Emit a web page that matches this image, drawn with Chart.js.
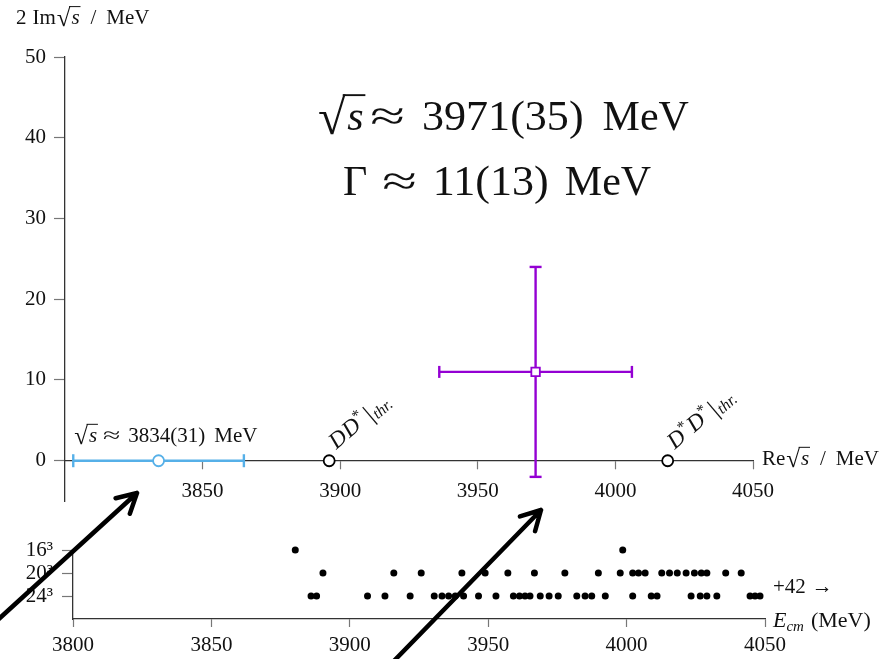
<!DOCTYPE html>
<html>
<head>
<meta charset="utf-8">
<script src="https://cdn.jsdelivr.net/npm/chart.js@4.4.1/dist/chart.umd.min.js"></script>
<style>
  html, body { margin: 0; padding: 0; background: #fff; width: 896px; height: 659px; overflow: hidden; }
  #wrap { position: relative; width: 896px; height: 659px; }
  canvas { position: absolute; left: 0; }
  #poles { top: 0; }
  #levels { top: 505px; }
  #arrows { top: 0; pointer-events: none; }
</style>
</head>
<body>
<div id="wrap">
  <canvas id="poles" width="896" height="510"></canvas>
  <canvas id="levels" width="896" height="154"></canvas>
  <canvas id="arrows" width="896" height="659"></canvas>
</div>
<script>
// ---- Pole positions in the complex energy plane (MeV) ----
const resonanceRe = [3971];
const resonanceReErr = [35];
const resonanceWidth = [11];      // 2 Im sqrt(s), i.e. Gamma
const resonanceWidthErr = [13];
const boundRe = [3834];
const boundReErr = [31];
const thresholdRe = [3896, 4019];
const thresholdNames = [['D', 'D'], ['D', 'D']];
const thresholdStars = [[false, true], [true, true]];
const xTicksTop = [3850, 3900, 3950, 4000, 4050];
const yTicksTop = [0, 10, 20, 30, 40, 50];

// ---- Finite-volume energy levels, one row per lattice volume ----
const volumeNames = ['24³', '20³', '16³'];
const levels24 = [3886, 3888, 3906.4, 3912.7, 3921.8, 3930.5, 3933.3, 3935.7, 3938.1, 3941.1,
  3946.5, 3952.8, 3959.1, 3961.3, 3963.3, 3965.1, 3968.8, 3972, 3975.3, 3982, 3985, 3987.4,
  3992.3, 4002.2, 4008.9, 4011, 4023.3, 4026.6, 4029, 4032.6, 4044.6, 4046.4, 4048.2];
const levels20 = [3890.3, 3915.9, 3925.8, 3940.5, 3948.9, 3957.1, 3966.7, 3977.7, 3989.8,
  3997.7, 4002.2, 4004.3, 4006.7, 4012.7, 4015.5, 4018.3, 4021.5, 4024.5, 4027, 4029,
  4035.8, 4041.4];
const levels16 = [3880.3, 3998.6];
const xTicksBottom = [3800, 3850, 3900, 3950, 4000, 4050];
const extraLevels = 42;

const SERIF = "'Liberation Serif', 'DejaVu Serif', serif";
const PURPLE = '#9400d3';
const BLUE = '#56b0e8';
const INK = '#111';

// ---- small text-layout helpers: runs of upright/italic pieces and a radical ----
function fontOf(r) { return (r.it ? 'italic ' : '') + r.size + 'px ' + SERIF; }

function drawSqrt(ctx, arg, x, y, size, dry) {
  const rs = size * 1.2, rdy = size * 0.1;
  ctx.font = rs + 'px ' + SERIF;
  const m = ctx.measureText('√');
  const w1 = m.width;
  const top = y + rdy - m.actualBoundingBoxAscent;
  ctx.font = 'italic ' + size + 'px ' + SERIF;
  const w2 = ctx.measureText(arg).width;
  if (!dry) {
    ctx.font = rs + 'px ' + SERIF;
    ctx.fillText('√', x, y + rdy);
    ctx.font = 'italic ' + size + 'px ' + SERIF;
    ctx.fillText(arg, x + w1 + size * 0.04, y);
    const lw = Math.max(1, size * 0.045);
    ctx.lineWidth = lw;
    ctx.beginPath();
    ctx.moveTo(x + w1 - size * 0.07, top + lw / 2);
    ctx.lineTo(x + w1 + w2 + size * 0.08, top + lw / 2);
    ctx.stroke();
  }
  return w1 + w2 + size * 0.08;
}

function drawRuns(ctx, runs, x, y, dry) {
  let cx = x;
  ctx.textBaseline = 'alphabetic';
  ctx.textAlign = 'left';
  for (const r of runs) {
    cx += r.gap || 0;
    if (r.sqrt) { cx += drawSqrt(ctx, r.sqrt, cx, y, r.size, dry); continue; }
    ctx.font = fontOf(r);
    const sx = r.sx || 1;
    const w = ctx.measureText(r.t).width * sx;
    if (!dry) {
      ctx.save();
      ctx.translate(cx, y + (r.dy || 0));
      ctx.scale(sx, 1);
      ctx.fillText(r.t, 0, 0);
      ctx.restore();
    }
    cx += w;
  }
  return cx - x;
}

function arrowDraw(ctx, x0, y0, x1, y1) {
  const ang = Math.atan2(y0 - y1, x0 - x1);
  const len = 22, spread = 0.5;
  ctx.beginPath();
  ctx.moveTo(x0, y0);
  ctx.lineTo(x1, y1);
  ctx.moveTo(x1 + len * Math.cos(ang + spread), y1 + len * Math.sin(ang + spread));
  ctx.lineTo(x1, y1);
  ctx.lineTo(x1 + len * Math.cos(ang - spread), y1 + len * Math.sin(ang - spread));
  ctx.stroke();
}

const plainNumber = v => String(v);

// ---- annotations for the pole plot ----
const poleText = {
  id: 'poleText',
  afterDraw(chart) {
    const ctx = chart.ctx;
    const xs = chart.scales.x, ys = chart.scales.y;
    const area = chart.chartArea;
    ctx.save();
    ctx.fillStyle = INK;
    ctx.strokeStyle = INK;

    // axis titles
    drawRuns(ctx, [{ t: '2', size: 21 }, { t: 'Im', size: 21, gap: 6 }, { sqrt: 's', size: 21, gap: 1 },
      { t: '/', size: 21, gap: 10 }, { t: 'MeV', size: 21, gap: 10 }], 16, 24);
    drawRuns(ctx, [{ t: 'Re', size: 21 }, { sqrt: 's', size: 21, gap: 1 },
      { t: '/', size: 21, gap: 10 }, { t: 'MeV', size: 21, gap: 10 }], area.right + 9, ys.getPixelForValue(0) + 4);

    // resonance summary
    const big = 42;
    drawRuns(ctx, [
      { sqrt: 's', size: big },
      { t: '≈', size: big, sx: 1.5, gap: 5 },
      { t: resonanceRe[0] + '(' + resonanceReErr[0] + ')', size: big, sx: 1.05, gap: 17 },
      { t: 'MeV', size: big, gap: 19 }], 318, 130);
    drawRuns(ctx, [
      { t: 'Γ', size: big },
      { t: '≈', size: big, sx: 1.5, gap: 15 },
      { t: resonanceWidth[0] + '(' + resonanceWidthErr[0] + ')', size: big, sx: 1.05, gap: 16 },
      { t: 'MeV', size: big, gap: 16 }], 343, 195);

    // bound-state label above its error bar
    drawRuns(ctx, [
      { sqrt: 's', size: 21 },
      { t: '≈', size: 21, sx: 1.5, gap: 5 },
      { t: boundRe[0] + '(' + boundReErr[0] + ')', size: 21, gap: 8 },
      { t: 'MeV', size: 21, gap: 9 }],
      xs.getPixelForValue(boundRe[0] - boundReErr[0]) + 1, ys.getPixelForValue(0) - 19);

    // threshold labels, tilted
    thresholdRe.forEach((e, i) => {
      const px = xs.getPixelForValue(e), py = ys.getPixelForValue(0);
      const runs = [];
      thresholdNames[i].forEach((n, k) => {
        runs.push({ t: n, it: true, size: 23, gap: k ? 1 : 0 });
        if (thresholdStars[i][k]) runs.push({ t: '*', size: 16, dy: -8 });
      });
      runs.push({ t: '|', size: 25, gap: 3, dy: 2 });
      runs.push({ t: 'thr.', it: true, size: 16, dy: 4, gap: 1 });
      ctx.save();
      ctx.translate(px + 7, py - 11);
      ctx.rotate(-Math.PI / 4 + 0.08);
      drawRuns(ctx, runs, 0, 0);
      ctx.restore();
    });
    ctx.restore();
  }
};

const re = resonanceRe[0], reErr = resonanceReErr[0];
const w = resonanceWidth[0], wErr = resonanceWidthErr[0];
const b = boundRe[0], bErr = boundReErr[0];

new Chart(document.getElementById('poles'), {
  type: 'scatter',
  data: {
    datasets: [
      { // resonance pole
        data: [{ x: re, y: w }],
        pointStyle: 'rect', pointRadius: 6, pointBorderWidth: 1.8,
        pointBackgroundColor: '#fff', pointBorderColor: PURPLE, clip: false
      },
      { // bound-state pole
        data: [{ x: b, y: 0 }],
        pointStyle: 'circle', pointRadius: 5.5, pointBorderWidth: 1.8,
        pointBackgroundColor: '#fff', pointBorderColor: BLUE, clip: false
      },
      { // two-meson thresholds
        data: thresholdRe.map(e => ({ x: e, y: 0 })),
        pointStyle: 'circle', pointRadius: 5.5, pointBorderWidth: 1.8,
        pointBackgroundColor: '#fff', pointBorderColor: '#000', clip: false
      },
      { // resonance: uncertainty in Re
        data: [{ x: re - reErr, y: w }, { x: re + reErr, y: w }],
        showLine: true, borderColor: PURPLE, borderWidth: 2.4,
        pointStyle: 'line', pointRotation: 90, pointRadius: 6, pointBorderWidth: 2.4,
        pointBorderColor: PURPLE, clip: false
      },
      { // resonance: uncertainty in width
        data: [{ x: re, y: w - wErr }, { x: re, y: w + wErr }],
        showLine: true, borderColor: PURPLE, borderWidth: 2.4,
        pointStyle: 'line', pointRotation: 0, pointRadius: 6, pointBorderWidth: 2.4,
        pointBorderColor: PURPLE, clip: false
      },
      { // bound state: uncertainty in Re
        data: [{ x: b - bErr, y: 0 }, { x: b + bErr, y: 0 }],
        showLine: true, borderColor: BLUE, borderWidth: 2.4,
        pointStyle: 'line', pointRotation: 90, pointRadius: 6.5, pointBorderWidth: 2.4,
        pointBorderColor: BLUE, clip: false
      }
    ]
  },
  options: {
    responsive: false, animation: false, devicePixelRatio: 1,
    layout: { padding: { left: 0, right: 143, top: 57, bottom: 5 } },
    plugins: { legend: { display: false }, tooltip: { enabled: false } },
    scales: {
      x: {
        type: 'linear', min: 3800, max: 4050, position: { y: 0 },
        afterBuildTicks: s => { s.ticks = xTicksTop.map(v => ({ value: v })); },
        grid: { drawOnChartArea: false, drawTicks: true, tickLength: 8, tickColor: '#777', tickWidth: 1.2 },
        border: { color: '#333', width: 1.3 },
        ticks: { font: { family: SERIF, size: 21 }, color: INK, padding: 10, maxRotation: 0, callback: plainNumber }
      },
      y: {
        type: 'linear', min: -5, max: 50,
        afterBuildTicks: s => { s.ticks = yTicksTop.map(v => ({ value: v })); },
        afterFit: s => { s.width = 65; s.paddingBottom = 0; },
        grid: { drawOnChartArea: false, drawTicks: true, tickLength: 11, tickColor: '#777', tickWidth: 1.2 },
        border: { color: '#333', width: 1.3 },
        ticks: { font: { family: SERIF, size: 21 }, color: INK, padding: 8, callback: plainNumber }
      }
    }
  },
  plugins: [poleText]
});

// ---- annotations for the energy-level strip ----
const levelText = {
  id: 'levelText',
  afterDraw(chart) {
    const ctx = chart.ctx;
    const area = chart.chartArea;
    const ys = chart.scales.y;
    ctx.save();
    ctx.fillStyle = INK;
    ctx.strokeStyle = INK;
    drawRuns(ctx, [{ t: '+' + extraLevels, size: 21 }, { t: '→', size: 21, gap: 6 }],
      area.right + 8, (ys.getPixelForValue(1) + ys.getPixelForValue(2)) / 2 + 8);
    drawRuns(ctx, [{ t: 'E', it: true, size: 22 }, { t: 'cm', it: true, size: 15, dy: 4 },
      { t: '(MeV)', size: 22, gap: 7 }], area.right + 8, area.bottom + 8);
    ctx.restore();
  }
};

const dot = { pointStyle: 'circle', pointRadius: 3.5, pointBorderWidth: 0,
  pointBackgroundColor: '#000', showLine: false, clip: false };

new Chart(document.getElementById('levels'), {
  type: 'scatter',
  data: {
    datasets: [
      Object.assign({ data: levels24.map(e => ({ x: e, y: 1 })) }, dot),
      Object.assign({ data: levels20.map(e => ({ x: e, y: 2 })) }, dot),
      Object.assign({ data: levels16.map(e => ({ x: e, y: 3 })) }, dot)
    ]
  },
  options: {
    responsive: false, animation: false, devicePixelRatio: 1,
    layout: { padding: { left: 0, right: 131, top: 45, bottom: 0 } },
    plugins: { legend: { display: false }, tooltip: { enabled: false } },
    scales: {
      x: {
        type: 'linear', min: 3800, max: 4050, position: 'bottom',
        afterBuildTicks: s => { s.ticks = xTicksBottom.map(v => ({ value: v })); },
        afterFit: s => { s.height = 40; },
        grid: { drawOnChartArea: false, drawTicks: true, tickLength: 8, tickColor: '#777', tickWidth: 1.2 },
        border: { color: '#333', width: 1.3 },
        ticks: { font: { family: SERIF, size: 21 }, color: INK, padding: 6, maxRotation: 0, callback: plainNumber }
      },
      y: {
        type: 'linear', min: 0, max: 3,
        afterBuildTicks: s => { s.ticks = [1, 2, 3].map(v => ({ value: v })); },
        afterFit: s => { s.width = 73; },
        grid: { drawOnChartArea: false, drawTicks: true, tickLength: 11, tickColor: '#777', tickWidth: 1.2 },
        border: { color: '#333', width: 1.3 },
        ticks: { font: { family: SERIF, size: 21 }, color: INK, padding: 9,
          callback: v => volumeNames[v - 1] }
      }
    }
  },
  plugins: [levelText]
});

// ---- pointers linking the poles to the spectrum ----
(function () {
  const ctx = document.getElementById('arrows').getContext('2d');
  ctx.strokeStyle = '#000';
  ctx.lineWidth = 4.5;
  ctx.lineCap = 'round';
  ctx.lineJoin = 'round';
  arrowDraw(ctx, -10, 627, 137, 493);
  arrowDraw(ctx, 390, 665, 541, 510);
})();
</script>
</body>
</html>
